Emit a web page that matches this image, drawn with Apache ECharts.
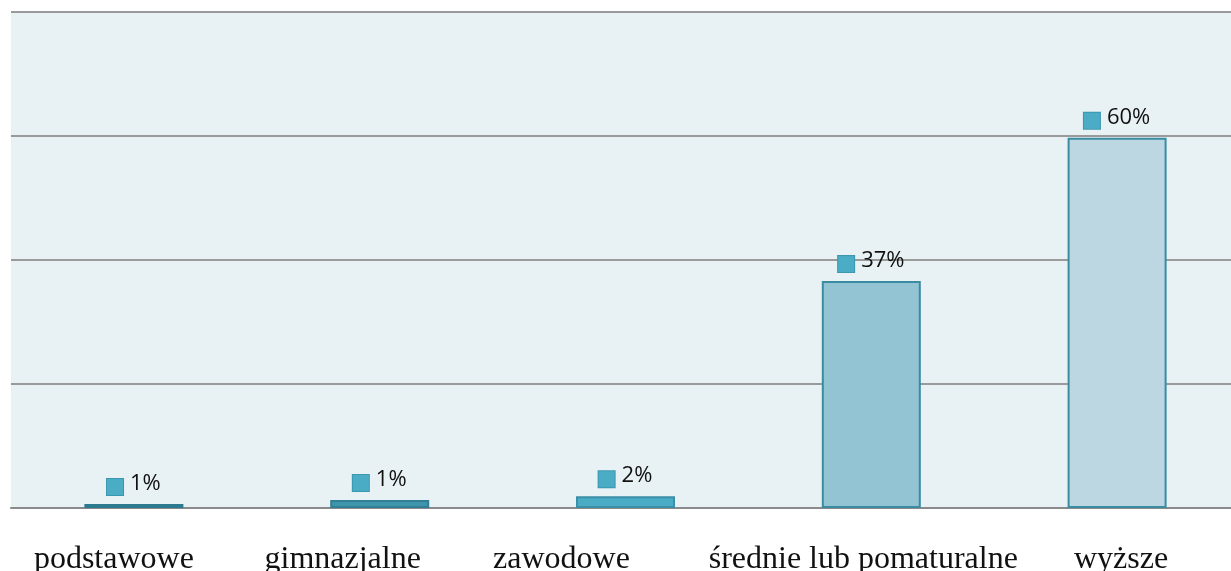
<!DOCTYPE html>
<html>
<head>
<meta charset="utf-8">
<script src="https://cdn.jsdelivr.net/npm/echarts@6/dist/echarts.min.js"></script>
<style>
html,body{margin:0;padding:0;background:#ffffff;}
#chart{width:1231px;height:571px;}
</style>
</head>
<body>
<div id="chart"></div>
<script>
const categories = ['podstawowe', 'gimnazjalne', 'zawodowe', 'średnie lub pomaturalne', 'wyższe'];
const values = [0.65, 1.3, 1.9, 36.6, 59.7];
const barColors = ['#31849b', '#3f95ab', '#4bacc6', '#93c4d4', '#bdd7e2'];
const barBorders = ['#2c7a8f', '#317f94', '#3b8fa6', '#3a8ca3', '#3a8ca3'];
const yTicks = [0, 20, 40, 60, 80];

const labelFont = {fontFamily: 'Liberation Serif', fontSize: 32, color: '#111111'};
const catRich = {
  c0: Object.assign({padding: [0, 40, 0, 0]}, labelFont),
  c1: Object.assign({padding: [0, 74, 0, 0]}, labelFont),
  c2: Object.assign({padding: [0, 128, 0, 0]}, labelFont),
  c3: Object.assign({padding: [0, 16, 0, 0]}, labelFont),
  c4: Object.assign({padding: [0, 0, 0, 8]}, labelFont)
};

const chart = echarts.init(document.getElementById('chart'), null, {renderer: 'canvas'});
chart.setOption({
  animation: false,
  backgroundColor: '#ffffff',
  grid: {
    left: 11, right: -9, top: 12, bottom: 63,
    outerBoundsMode: 'none',
    containLabel: false,
    show: true, backgroundColor: '#e8f1f4', borderWidth: 0
  },
  xAxis: {
    type: 'category',
    data: categories,
    axisLine: {show: true, lineStyle: {color: '#8a8a8a', width: 2}},
    axisTick: {show: false},
    axisLabel: {
      interval: 0,
      margin: 36,
      fontFamily: 'Liberation Serif',
      fontSize: 32,
      color: '#111111',
      formatter: (v, i) => '{c' + i + '|' + v + '}',
      rich: catRich
    }
  },
  yAxis: {
    type: 'value',
    min: yTicks[0],
    max: yTicks[yTicks.length - 1],
    interval: 20,
    axisLine: {show: false},
    axisTick: {show: false},
    axisLabel: {show: false},
    splitLine: {show: true, lineStyle: {color: '#9a9a9a', width: 2}}
  },
  series: [{
    type: 'bar',
    barWidth: 99,
    data: values.map((v, i) => ({
      value: v,
      itemStyle: {color: barColors[i], borderColor: barBorders[i], borderWidth: 2}
    })),
    label: {
      show: true,
      position: 'top',
      distance: 9,
      formatter: p => '{m|}{t|' + Math.round(p.value) + '%}',
      rich: {
        m: {width: 16, height: 16, backgroundColor: '#4bacc6', borderColor: '#3b97b0', borderWidth: 1, verticalAlign: 'bottom'},
        t: {fontSize: 22, fontFamily: 'Open Sans', color: '#111111', padding: [0, 0, 0, 7], verticalAlign: 'bottom'}
      }
    }
  }]
});
</script>
</body>
</html>
